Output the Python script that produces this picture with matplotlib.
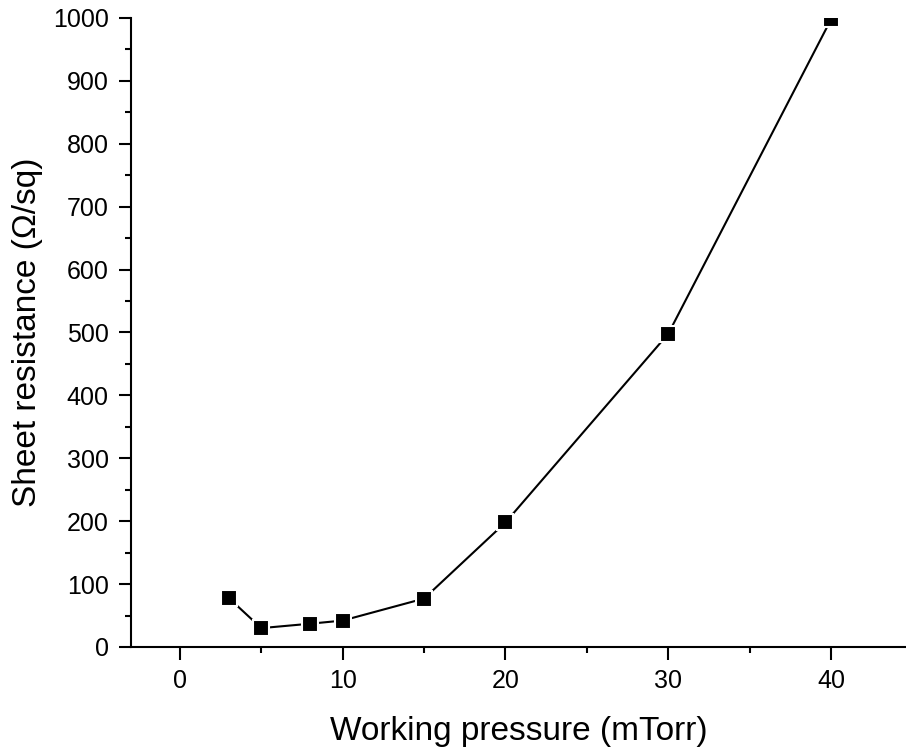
import matplotlib
matplotlib.use('Agg')
import matplotlib.pyplot as plt
from matplotlib.ticker import MultipleLocator

# Data
pressure = [3, 5, 8, 10, 15, 20, 30, 40]
resistance = [78, 30, 37, 42, 77, 198, 498, 998]

plt.rcParams['font.family'] = ['Liberation Sans', 'DejaVu Sans']

fig = plt.figure(figsize=(9.06, 7.49), dpi=100)
ax = fig.add_axes([0.1446, 0.1362, 0.8554, 0.8398])

ax.plot(pressure, resistance, color='black', linewidth=1.5,
        marker='s', markersize=12, markerfacecolor='black',
        markeredgecolor='white', markeredgewidth=1.5)

ax.set_xlim(-3, 44.6)
ax.set_ylim(0, 1000)

ax.xaxis.set_major_locator(MultipleLocator(10))
ax.xaxis.set_minor_locator(MultipleLocator(5))
ax.yaxis.set_major_locator(MultipleLocator(100))
ax.yaxis.set_minor_locator(MultipleLocator(50))

for side in ['top', 'right']:
    ax.spines[side].set_visible(False)
for side in ['left', 'bottom']:
    ax.spines[side].set_linewidth(1.5)

ax.tick_params(which='major', direction='out', length=9, width=1.5,
               labelsize=18, pad=7)
ax.tick_params(which='minor', direction='out', length=4.5, width=1.5)

ax.set_xlabel('Working pressure (mTorr)', fontsize=24)
ax.set_ylabel('Sheet resistance (\u03a9/sq)', fontsize=24)
ax.xaxis.set_label_coords(0.5, -0.134)
ax.xaxis.label.set_va('center')
ax.yaxis.set_label_coords(-0.133, 0.5)
ax.yaxis.label.set_va('center')

fig.savefig('out.png', dpi=100)
